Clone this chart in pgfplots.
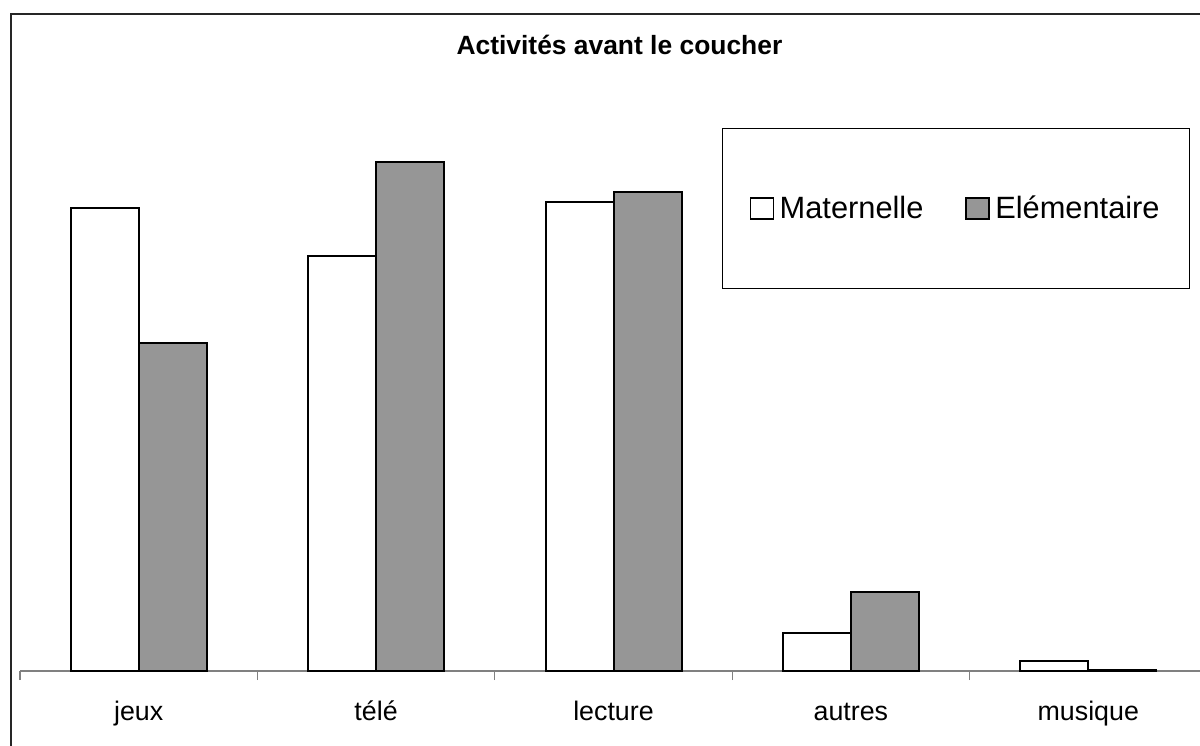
\documentclass[border=0pt]{standalone}
\usepackage{fontspec}
\setmainfont{Liberation Sans}
\usepackage{pgfplots}
\pgfplotsset{compat=1.18}
\definecolor{barGray}{RGB}{150,150,150}
\begin{document}
\begin{tikzpicture}
\useasboundingbox (0,0) rectangle (600pt,372.5pt);
\draw[line width=1pt, black!85] (5.5pt,-20pt) rectangle (720pt,365.5pt);
\begin{axis}[
  at={(10pt,37pt)}, anchor=south west,
  scale only axis, width=593.5pt, height=328.5pt,
  xmin=-0.5, xmax=4.5, ymin=0, ymax=657,
  clip=false,
  axis y line=none, axis x line*=bottom,
  x axis line style={gray, line width=0.6pt, -},
  xtick={0,1,2,3,4},
  xticklabels={jeux,télé,lecture,autres,musique},
  major tick length=0pt,
  minor xtick={-0.5,0.5,1.5,2.5,3.5,4.5},
  minor tick length=4.5pt, tick align=outside,
  minor tick style={gray, line width=0.6pt},
  xticklabel style={font=\fontsize{13.4}{16}\selectfont, anchor=base, yshift=-24.5pt},
  ybar, bar width=34pt,
  title={Activités avant le coucher},
  title style={font=\bfseries\fontsize{13.2}{16}\selectfont, at={(axis description cs:0.505,0.9208)}, anchor=base},
  legend columns=2,
  legend style={at={(axis description cs:0.5912,0.8265)}, anchor=north west,
    draw=black, line width=0.5pt, fill=white,
    minimum width=233.5pt, minimum height=80pt,
    font=\fontsize{15.4}{18}\selectfont,
    nodes={inner sep=1pt, minimum width=0pt, minimum height=0pt},
    /tikz/every even column/.append style={column sep=20pt}},
  legend image code/.code={\draw[#1, line width=0.8pt] (0pt,-5.25pt) rectangle (11.5pt,5.25pt); \path (13pt,0pt);},
]
\addplot[fill=white, draw=black, line width=1pt, bar shift=-17pt]
  coordinates {(0,463) (1,414.5) (2,468.5) (3,38) (4,10)};
\addlegendentry{Maternelle}
\addplot[fill=barGray, draw=black, line width=1pt, bar shift=17pt]
  coordinates {(0,327.5) (1,509) (2,478.5) (3,79.5) (4,1.5)};
\addlegendentry{Elémentaire}
\end{axis}
\end{tikzpicture}
\end{document}
